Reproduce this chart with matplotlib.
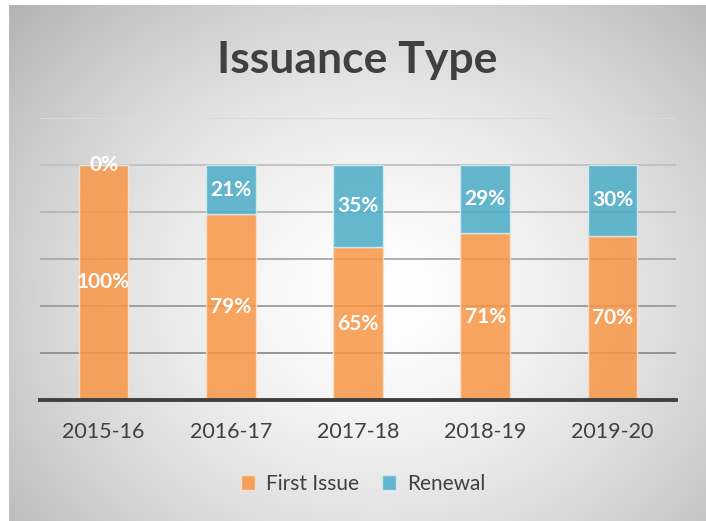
import numpy as np
import matplotlib.pyplot as plt
from matplotlib.patches import Patch

# data
years = ['2015-16', '2016-17', '2017-18', '2018-19', '2019-20']
first_issue = [100, 79, 65, 71, 70]
renewal = [0, 21, 35, 29, 30]

orange = '#F79646'
blue = '#4BACC6'
text_col = '#404040'

plt.rcParams['font.family'] = ['Lato', 'DejaVu Sans']

fig = plt.figure(figsize=(7.06, 5.21), dpi=100)

# radial grey gradient background behind the chart
bg = fig.add_axes([9 / 706, 0, 697 / 706, 516 / 521], zorder=-10)
yy, xx = np.mgrid[0:516, 0:697]
r = np.sqrt(((xx - 370) / 420.0) ** 2 + ((yy - 290) / 360.0) ** 2)
shade = 1.0 - 0.23 * np.clip(r, 0, 1.3) ** 1.5
bg.imshow(np.dstack([shade] * 3), aspect='auto', origin='upper')
bg.axis('off')

ax = fig.add_axes([40 / 706, 1 - 400 / 521, 636 / 706, 282 / 521])
ax.set_facecolor('none')

x = np.arange(len(years))
w = 0.39

# graded gridlines, darker toward the bottom
grid_cols = ['#8E8E8E', '#9A9A9A', '#A8A8A8', '#B4B4B4', '#C0C0C0', '#DADADA']
for g, c in zip(range(20, 121, 20), grid_cols):
    ax.axhline(g, color=c, lw=1.3, zorder=0)

ax.bar(x, first_issue, w, color=orange, alpha=0.85,
       edgecolor='#FBE3CF', linewidth=1.0, zorder=2, label='First Issue')
ax.bar(x, renewal, w, bottom=first_issue, color=blue, alpha=0.85,
       edgecolor='#D6EDF3', linewidth=1.0, zorder=2, label='Renewal')

for i in range(len(years)):
    ax.text(x[i], first_issue[i] / 2, f'{first_issue[i]}%', ha='center', va='center',
            color='white', fontsize=15, fontweight='bold', zorder=3)
    ax.text(x[i], first_issue[i] + renewal[i] / 2, f'{renewal[i]}%', ha='center',
            va='center', color='white', fontsize=15, fontweight='bold', zorder=3)

ax.set_xlim(-0.5, len(years) - 0.5)
ax.set_ylim(0, 120)
ax.set_yticks([])
ax.set_xticks(x)
ax.set_xticklabels(years, fontsize=15.5, color=text_col)
ax.tick_params(axis='x', length=0, pad=16)
for s in ['top', 'right', 'left']:
    ax.spines[s].set_visible(False)
ax.spines['bottom'].set_color(text_col)
ax.spines['bottom'].set_linewidth(2.8)
ax.spines['bottom'].set_zorder(4)

fig.text(357 / 706, 1 - 60 / 521, 'Issuance Type', ha='center', va='center',
         fontsize=32, fontweight='bold', color=text_col)

handles = [Patch(facecolor=orange, alpha=0.85, edgecolor='#FBE3CF', label='First Issue'),
           Patch(facecolor=blue, alpha=0.85, edgecolor='#D6EDF3', label='Renewal')]
fig.legend(handles=handles, loc='center', bbox_to_anchor=(363 / 706, 1 - 484 / 521),
           ncol=2, frameon=False, fontsize=15, labelcolor=text_col,
           handlelength=0.7, handleheight=0.7, handletextpad=0.5, columnspacing=1.1)

fig.savefig('out.png', dpi=100, facecolor='white')
